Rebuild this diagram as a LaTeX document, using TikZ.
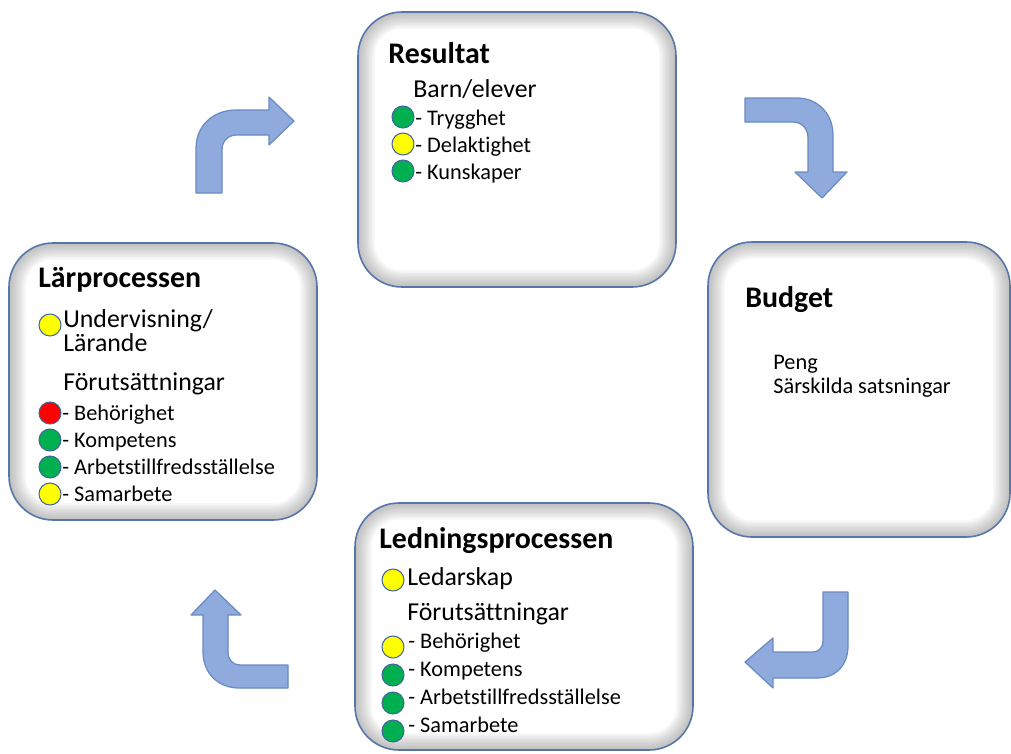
\documentclass[tikz,border=0pt]{standalone}
\usepackage{fontspec}
\setmainfont[Ligatures=CommonOff]{Carlito}
\usepackage{tikz}
\usetikzlibrary{fit}
\definecolor{kant}{HTML}{5676AA}
\definecolor{lampkant}{HTML}{41669C}
\definecolor{pilfarg}{HTML}{8FAADC}
\definecolor{pilkant}{HTML}{6A8AC2}
\definecolor{gron}{HTML}{00B050}
\definecolor{gul}{HTML}{FFFF00}
\definecolor{rod}{HTML}{FF0000}

\begin{document}
\begin{tikzpicture}[x=0.02cm, y=-0.02cm,
	ruta/.style={draw=kant, line width=0.9pt, fill=white, rounded corners=25pt, inner sep=0pt,
		path picture={
			\foreach \i in {1,...,12}
				\draw[black!55, line width=1.6*\i pt, opacity=0.045, rounded corners=25pt]
					(path picture bounding box.south west) rectangle (path picture bounding box.north east);
		}},
	rubrik/.style={anchor=base west, inner sep=0pt, font=\fontsize{17}{20}\selectfont\bfseries},
	mellan/.style={anchor=base west, inner sep=0pt, font=\fontsize{14.7}{18}\selectfont},
	punkt/.style={anchor=base west, inner sep=0pt, font=\fontsize{12.7}{15}\selectfont},
	lampa/.style={circle, draw=lampkant, line width=0.6pt, fill=#1, minimum size=0.44cm, inner sep=0pt},
	pil/.style={fill=pilfarg, draw=pilkant, line width=0.7pt, line join=round}]
	\useasboundingbox (0,0) rectangle (1011,754);
	
	\node[ruta, fit={(358,12) (676,287)}] (resultat) {};
	\node[ruta, fit={(9,243) (317,520)}] (lar) {};
	\node[ruta, fit={(708,242) (1010,537)}] (budget) {};
	\node[ruta, fit={(355,503) (693,750)}] (ledning) {};
	
	\node[rubrik] (resultat-rubrik) at (388,63) {Resultat};
	\node[mellan] (barn) at (413,97) {Barn/elever};
	\foreach \txt/\col [count=\i] in {Trygghet/gron, Delaktighet/gul, Kunskaper/gron}
	{
		\pgfmathsetmacro{\yb}{98+27*\i};
		\node[punkt] (res-\i) at (415,\yb) {- \txt};
		\node[lampa=\col] (res-lampa-\i) at (403,\yb-8) {};
	}
	
	\node[rubrik] (lar-rubrik) at (38,287) {Lärprocessen};
	\node[mellan] (undervisning) at (63,327) {Undervisning/};
	\node[mellan] (larande) at (63,351) {Lärande};
	\node[lampa=gul] (lar-lampa-0) at (50,325) {};
	\node[mellan] (lar-forut) at (63,390) {Förutsättningar};
	\foreach \txt/\col [count=\i] in {Behörighet/rod, Kompetens/gron, Arbetstillfredsställelse/gron, Samarbete/gul}
	{
		\pgfmathsetmacro{\yb}{393+27*\i};
		\node[punkt] (lar-\i) at (62,\yb) {- \txt};
		\node[lampa=\col] (lar-lampa-\i) at (50,\yb-7) {};
	}
	
	\node[rubrik] (budget-rubrik) at (745,307) {Budget};
	\node[punkt] (peng) at (773,369) {Peng};
	\node[punkt] (satsningar) at (773,393) {Särskilda satsningar};
	
	\node[rubrik] (led-rubrik) at (379,548) {Ledningsprocessen};
	\node[mellan] (ledarskap) at (407,585) {Ledarskap};
	\node[lampa=gul] (led-lampa-0) at (393,580) {};
	\node[mellan] (led-forut) at (407,620) {Förutsättningar};
	\foreach \txt/\col [count=\i] in {Behörighet/gul, Kompetens/gron, Arbetstillfredsställelse/gron, Samarbete/gron}
	{
		\pgfmathsetmacro{\yb}{620+28*\i};
		\node[punkt] (led-\i) at (408,\yb) {- \txt};
		\node[lampa=\col] (led-lampa-\i) at (393,\yb-1) {};
	}
	
	\draw[pil] (196,193) -- (196,148) .. controls (196,126) and (213,110) .. (236,110) -- (269,110) -- (269,97) -- (294,121) -- (269,145) -- (269,135) -- (237,135) .. controls (228,135) and (222,141) .. (222,150) -- (222,193) -- cycle;
	\draw[pil] (745,98) -- (797,98) .. controls (818,98) and (833,114) .. (833,135) -- (833,172) -- (847,172) -- (822,198) -- (795,172) -- (808,172) -- (808,138) .. controls (808,129) and (802,122) .. (793,122) -- (745,122) -- cycle;
	\draw[pil] (823,592) -- (848,592) -- (848,646) .. controls (848,665) and (836,678) .. (817,678) -- (773,678) -- (773,688) -- (745,662) -- (773,638) -- (773,652) -- (813,652) .. controls (819,652) and (823,647) .. (823,641) -- cycle;
	\draw[pil] (288,665) -- (240,665) .. controls (233,665) and (228,660) .. (228,652) -- (228,615) -- (241,615) -- (215,590) -- (191,615) -- (203,615) -- (203,652) .. controls (203,673) and (218,688) .. (239,688) -- (288,688) -- cycle;
\end{tikzpicture}
\end{document}
